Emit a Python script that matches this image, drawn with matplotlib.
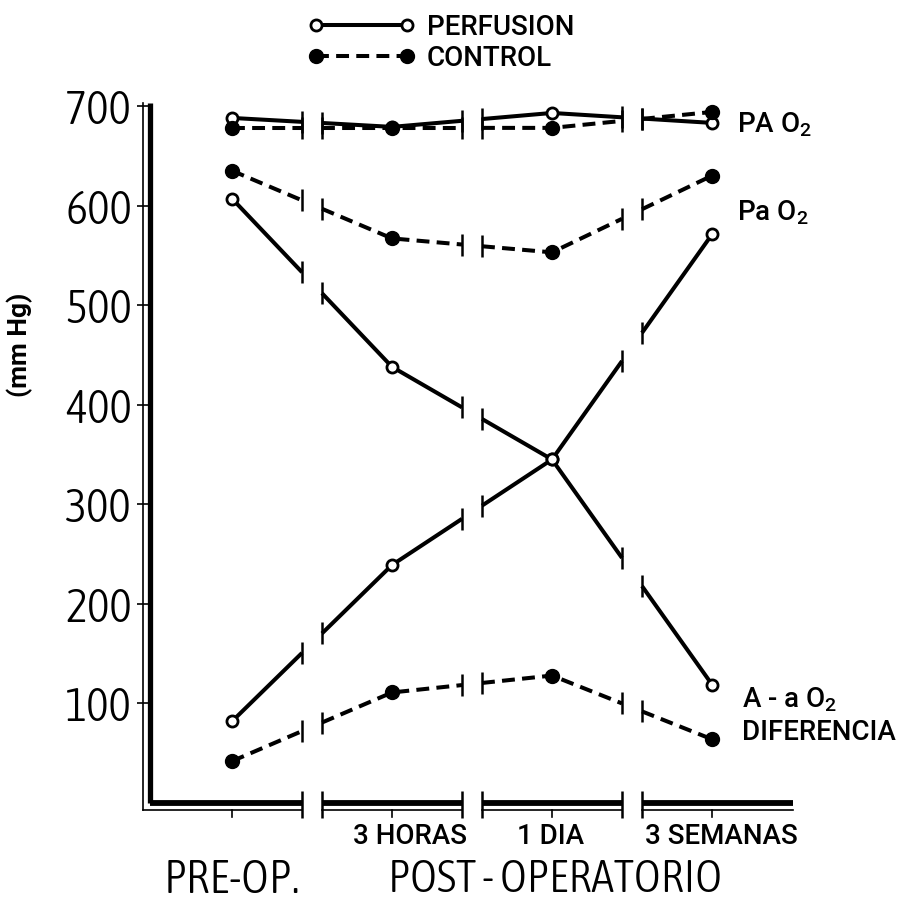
import matplotlib.pyplot as plt
from matplotlib.lines import Line2D
from matplotlib import font_manager as fm
import numpy as np

# ---------- Data (mm Hg) ----------
times = ["PRE-OP", "3 HORAS", "1 DIA", "3 SEMANAS"]
pao2_alv_perf = [688, 679, 693, 683]   # PA O2, perfusion
pao2_alv_ctrl = [678, 678, 678, 694]   # PA O2, control
pao2_art_perf = [607, 438, 345, 571]   # Pa O2, perfusion
pao2_art_ctrl = [635, 567, 553, 630]   # Pa O2, control
aa_diff_perf = [82, 239, 345, 119]     # A-a O2 difference, perfusion
aa_diff_ctrl = [42, 111, 128, 64]      # A-a O2 difference, control
y_ticks = [100, 200, 300, 400, 500, 600, 700]

# ---------- Style ----------
plt.rcParams["mathtext.default"] = "regular"
SANS = ["Roboto", "Liberation Sans", "DejaVu Sans"]
SANS_W = "medium"
TXT = 20

# look for any installed condensed / narrow face for the big numerals
narrow_faces = [f for f in fm.fontManager.ttflist
                if ("Narrow" in f.name or "Condensed" in f.name
                    or "condensed" in str(f.stretch))
                and f.style == "normal"
                and str(f.weight) in ("400", "normal", "regular", "300", "light")]
narrow_faces.sort(key=lambda f: (str(f.weight) not in ("300", "light"), f.name))
if narrow_faces:
    NARROW = fm.FontProperties(fname=narrow_faces[0].fname)
    BIG_TICK, BIG_LABEL = 34, 34
else:
    NARROW = fm.FontProperties(family="DejaVu Sans")
    BIG_TICK, BIG_LABEL = 30, 28

W, H = 901, 908
X0, X1 = 150, 793          # axes pixel extent
Y0, Y1 = 803, 101
XMIN = (X0 - 232) / 160
XMAX = (X1 - 232) / 160
YMAX = 705
PXX = 1 / 160                       # one pixel in x data units
PXY = YMAX / (Y0 - Y1)              # one pixel in y data units
GAP = 10 * PXX                      # half width of axis breaks
BREAKS = [0.5, 1.5, 2.5]

SOLID = dict(color="black", lw=2.9, ls="-", solid_capstyle="butt")
DASHED = dict(color="black", lw=2.9, ls=(0, (3.2, 1.8)), dash_capstyle="butt")
OPEN = dict(marker="o", ms=8, mfc="white", mec="black", mew=2.0, ls="none")
FILLED = dict(marker="o", ms=10, mfc="black", mec="black", mew=1, ls="none")


def draw_broken(ax, vals, line_style, marker_style):
    xs = np.arange(len(vals))
    edges = [xs[0]]
    for b in BREAKS:
        edges += [b - GAP, b + GAP]
    edges.append(xs[-1])
    for a, b in zip(edges[::2], edges[1::2]):
        sx = [a] + [x for x in xs if a < x < b] + [b]
        sy = np.interp(sx, xs, vals)
        ax.plot(sx, sy, zorder=3, **line_style)
    # short bars where the line is interrupted
    for b in BREAKS:
        for e in (b - GAP, b + GAP):
            yv = np.interp(e, xs, vals)
            ax.plot([e, e], [yv - 11 * PXY, yv + 11 * PXY], color="black",
                    lw=1.8, zorder=3, solid_capstyle="butt")
    ax.plot(xs, vals, zorder=4, clip_on=False, **marker_style)


fig = plt.figure(figsize=(W / 100, H / 100), dpi=100)
ax = fig.add_axes([X0 / W, 1 - Y0 / H, (X1 - X0) / W, (Y0 - Y1) / H])
ax.set_xlim(XMIN, XMAX)
ax.set_ylim(0, YMAX)
for s in ax.spines.values():
    s.set_visible(False)

# ---------- Series ----------
draw_broken(ax, pao2_alv_perf, SOLID, OPEN)
draw_broken(ax, pao2_alv_ctrl, DASHED, FILLED)
draw_broken(ax, pao2_art_ctrl, DASHED, FILLED)
draw_broken(ax, pao2_art_perf, SOLID, OPEN)
draw_broken(ax, aa_diff_perf, SOLID, OPEN)
draw_broken(ax, aa_diff_ctrl, DASHED, FILLED)

# ---------- Axes (double line, broken x axis) ----------
top = 703
ax.plot([XMIN, XMIN], [0, top], color="black", lw=3.8, clip_on=False,
        solid_capstyle="butt")
ax.plot([XMIN - 7 * PXX] * 2, [-7 * PXY, top], color="black", lw=1.2,
        clip_on=False)
edges = [XMIN]
for b in BREAKS:
    edges += [b - GAP, b + GAP]
edges.append(XMAX)
for i, (a, b) in enumerate(zip(edges[::2], edges[1::2])):
    ax.plot([a, b], [0, 0], color="black", lw=4.2, clip_on=False,
            solid_capstyle="butt")
    a_thin = XMIN - 7 * PXX if i == 0 else a
    ax.plot([a_thin, b], [-7 * PXY] * 2, color="black", lw=1.2, clip_on=False)
for b in BREAKS:
    for e in (b - GAP, b + GAP):
        ax.plot([e, e], [-15 * PXY, 12 * PXY], color="black", lw=1.8,
                clip_on=False, solid_capstyle="butt")
for x in range(len(times)):
    ax.plot([x, x], [-7 * PXY, -14 * PXY], color="black", lw=1.2,
            clip_on=False)

ax.set_xticks([])
ax.set_yticks(y_ticks)
ax.set_yticklabels([str(v) for v in y_ticks])
for t in ax.get_yticklabels():
    t.set_fontproperties(NARROW)
    t.set_fontsize(BIG_TICK)
ax.tick_params(axis="y", length=9.5, width=1.2, pad=3.5, direction="out")

# x labels
label_x = [None, 1.11, 1.99, 3.06]
for x, lab in zip(label_x, times):
    if x is None:
        continue
    ax.text(x, -33 * PXY, lab, ha="center", va="center", fontsize=TXT,
            family=SANS, fontweight=SANS_W, clip_on=False)
fig.text(232 / W, 1 - 880 / H, "PRE-OP.", ha="center", va="center",
         fontproperties=NARROW, fontsize=BIG_LABEL)
fig.text(555 / W, 1 - 880 / H, "POST - OPERATORIO", ha="center",
         va="center", fontproperties=NARROW, fontsize=BIG_LABEL - 1)

# y label
fig.text(20 / W, 1 - 345 / H, "(mm Hg)", rotation=90, ha="center",
         va="center", fontsize=19, family=SANS, fontweight="bold")

# right-hand series labels
for (px, py, txt) in [(737, 125, "PA O$_2$"), (737, 213, "Pa O$_2$"),
                      (742, 700, "A - a O$_2$"), (742, 733, "DIFERENCIA")]:
    fig.text(px / W, 1 - py / H, txt, ha="left", va="center", fontsize=TXT,
             family=SANS, fontweight=SANS_W)

# legend
handles = [Line2D([], [], **{**SOLID, **{k: v for k, v in OPEN.items() if k != "ls"}}),
           Line2D([], [], **{**DASHED, **{k: v for k, v in FILLED.items() if k != "ls"}})]
fig.legend(handles, ["PERFUSION", "CONTROL"], loc="upper left",
           bbox_to_anchor=(308 / W, 1 - 14 / H), frameon=False, numpoints=2,
           handlelength=3.85, handletextpad=0.43, labelspacing=0.15,
           borderpad=0, borderaxespad=0,
           prop={"family": SANS, "size": TXT, "weight": SANS_W})

fig.savefig("out.png", dpi=100)
